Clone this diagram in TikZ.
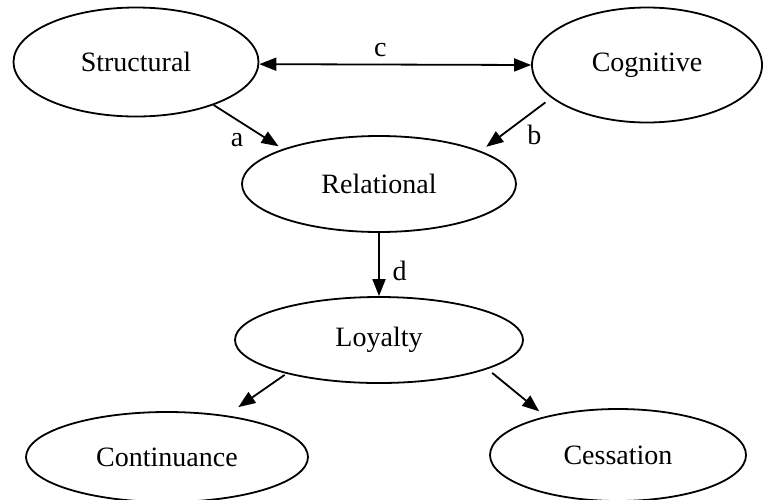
\documentclass[tikz,border=0pt]{standalone}
\usepackage{fontspec}
\setmainfont{Liberation Serif}
\usetikzlibrary{shapes.geometric,arrows.meta}
\begin{document}
\begin{tikzpicture}[x=0.5pt,y=-0.5pt,line join=round,line width=0.9pt,>={Triangle[length=8.5pt,width=6.5pt]},font=\fontsize{14}{17}\selectfont,
	blob/.style={draw,ellipse,inner sep=0pt},
	arr/.style={->}]
	\useasboundingbox (0,0) rectangle (763,499);
	% the six constructs
	\node[blob,minimum width=122.5pt,minimum height=54.5pt] (str) at (136,62) {Structural};
	\node[blob,minimum width=115pt,minimum height=57.5pt] (cog) at (647,65) {Cognitive};
	\node[blob,minimum width=137pt,minimum height=48pt] (rel) at (379,184) {Relational};
	\node[blob,minimum width=144pt,minimum height=43pt] (loy) at (379,340) {Loyalty};
	\node[blob,minimum width=141pt,minimum height=45pt] (con) at (167,457) {Continuance};
	\node[blob,minimum width=128pt,minimum height=46pt] (ces) at (618,455) {Cessation};
	% paths
	\draw[<->] (str.-1.5) -- node[pos=0.445,above] (lc) {c} (cog.180);
	\draw[arr,shorten >=2.5pt] (str.-29.2) -- node[pos=0.8,left=9pt] (la) {a} (rel.160.3);
	\draw[arr,shorten <=3.7pt,shorten >=3.5pt] (cog.199.9) -- node[pos=0.7,right=9pt] (lb) {b} (rel.18.4);
	\draw[arr] (rel.south) -- node[pos=0.6,right=3pt] (ld) {d} (loy.north);
	\draw[arr,shorten <=1pt,shorten >=7.2pt] (loy.200.3) -- (con.35.2);
	\draw[arr,shorten <=3pt,shorten >=3.9pt] (loy.-15.6) -- (ces.152.5);
\end{tikzpicture}
\end{document}
